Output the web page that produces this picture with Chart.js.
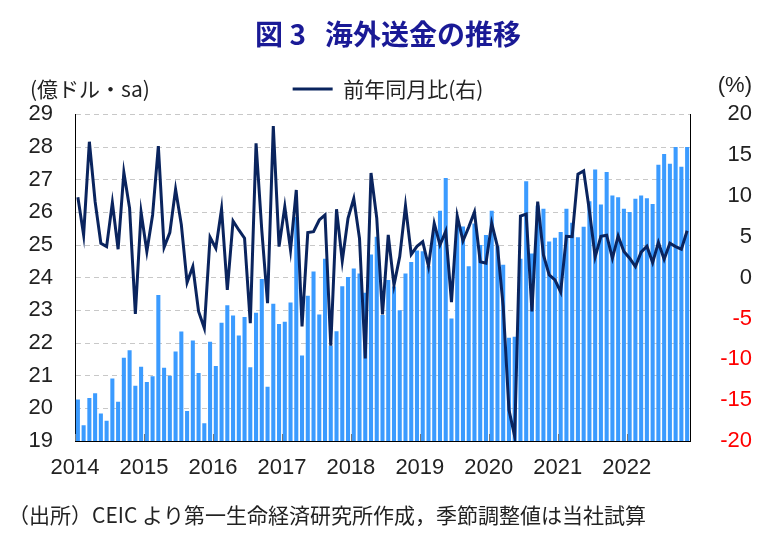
<!DOCTYPE html>
<html lang="ja">
<head>
<meta charset="utf-8">
<title>図3 海外送金の推移</title>
<script src="https://cdn.jsdelivr.net/npm/chart.js@4.4.1/dist/chart.umd.min.js"></script>
<style>
  html, body { margin: 0; padding: 0; background: #fff; }
</style>
</head>
<body>
<canvas id="chart" width="776" height="538"></canvas>
<script>
// 年ラベル（目盛は各年1月の位置）
const years = ['2014', '2015', '2016', '2017', '2018', '2019', '2020', '2021', '2022'];

// 海外送金（億ドル・季節調整値）2014年1月〜2022年11月
const remittance = [
  20.26, 19.47, 20.31, 20.45, 19.83, 19.61, 20.90, 20.19, 21.54, 21.77, 20.68, 21.26,
  20.80, 20.97, 23.46, 21.23, 20.99, 21.73, 22.34, 19.91, 22.07, 21.07, 19.53, 22.03,
  21.29, 22.61, 23.15, 22.83, 22.22, 22.79, 21.25, 22.92, 23.95, 20.65, 23.19, 22.57,
  22.64, 23.23, 25.85, 21.61, 23.44, 24.18, 22.86, 24.57, 21.91, 22.35, 23.73, 24.01,
  24.27, 24.12, 23.53, 24.70, 25.24, 22.85, 23.92, 23.72, 22.99, 24.12, 24.47, 24.82,
  24.80, 24.35, 25.40, 26.04, 27.04, 22.74, 25.60, 25.56, 24.34, 25.65, 24.99, 25.30,
  26.04, 24.95, 24.39, 22.15, 22.18, 24.57, 26.94, 24.73, 26.20, 26.10, 25.10, 25.21,
  25.39, 26.10, 25.67, 25.23, 25.55, 26.33, 27.30, 26.23, 27.23, 26.51, 26.45, 26.10,
  26.00, 26.41, 26.51, 26.42, 26.25, 27.45, 27.78, 27.48, 27.99, 27.39, 27.99
];

// 前年同月比（%、右軸）
const yoy = [
   9.85,  5.24, 16.65,  9.31,  4.22,  3.81,  9.19,  3.49, 12.90,  8.50, -4.43,  8.01,
   3.20,  7.68, 16.12,  3.73,  5.52, 10.83,  6.50, -0.60,  1.36, -4.14, -6.18,  4.95,
   3.60,  8.42, -1.49,  6.95,  5.85,  4.83, -5.57, 16.45,  5.80, -3.12, 18.57,  3.81,
   8.70,  3.40, 10.74, -5.98,  5.52,  5.64,  7.07,  7.68, -8.34,  8.38,  2.06,  7.28,
   9.70,  4.80, -9.90, 12.82,  7.30, -4.50,  5.24, -0.90,  2.58,  8.80,  2.85,  3.85,
   4.42,  1.40,  6.66,  4.01,  5.68, -3.00,  7.56,  4.50,  6.20,  8.05,  1.95,  1.77,
   6.66,  3.81, -3.50,-16.17,-19.44,  7.56,  7.80, -4.14,  9.31,  2.79,  0.34, -0.27,
  -1.75,  5.07,  5.03, 12.68, 13.08,  8.20,  2.55,  5.07,  5.20,  2.38,  5.11,  3.20,
   2.38,  1.36,  3.13,  3.85,  1.85,  4.32,  2.26,  4.22,  3.81,  3.50,  5.75
];

const JP = '"Noto Sans CJK JP", sans-serif';
const NUM = '"Liberation Sans Narrow", "Liberation Sans", sans-serif';

// 各月を x = i + 0.5 に置く（年の区切りが12の倍数になる）
const monthX = remittance.map((_, i) => i + 0.5);

// 単位ラベル・出所・年の区切り目盛
const extras = {
  id: 'extras',
  afterDatasetsDraw(chart) {
    const { ctx, chartArea, scales } = chart;
    ctx.save();
    ctx.strokeStyle = '#777';
    ctx.lineWidth = 1;
    scales.x.ticks.forEach(t => {
      const px = Math.round(scales.x.getPixelForValue(t.value)) + 0.5;
      ctx.beginPath();
      ctx.moveTo(px, chartArea.bottom);
      ctx.lineTo(px, chartArea.bottom - 7);
      ctx.stroke();
    });
    ctx.restore();
  },
  afterDraw(chart) {
    const ctx = chart.ctx;
    ctx.save();
    ctx.fillStyle = '#222';
    ctx.textBaseline = 'middle';
    ctx.textAlign = 'left';
    ctx.font = '21px ' + JP;
    ctx.fillText('(億ドル・sa)', 30, 89);
    ctx.textAlign = 'right';
    ctx.font = '22px ' + NUM;
    ctx.fillText('(%)', 752, 86);
    ctx.textAlign = 'left';
    ctx.font = '21px ' + JP;
    ctx.fillText('（出所）CEIC より第一生命経済研究所作成，季節調整値は当社試算', 8, 515);
    ctx.restore();
  }
};

new Chart(document.getElementById('chart'), {
  type: 'bar',
  data: {
    datasets: [
      {
        type: 'bar',
        label: '海外送金',
        data: monthX.map((x, i) => ({ x, y: remittance[i] })),
        backgroundColor: '#3b9bff',
        barThickness: 3.4,
        yAxisID: 'y',
        order: 2
      },
      {
        type: 'line',
        label: '前年同月比(右)',
        data: monthX.map((x, i) => ({ x, y: yoy[i] })),
        borderColor: '#0a245e',
        backgroundColor: '#0a245e',
        borderWidth: 3,
        pointRadius: 0,
        tension: 0,
        yAxisID: 'y2',
        order: 1
      }
    ]
  },
  options: {
    responsive: false,
    animation: false,
    layout: { padding: { left: 24, right: 24, top: 0, bottom: 0 } },
    plugins: {
      title: {
        display: true,
        text: '図 3   海外送金の推移',
        color: '#1a1a96',
        font: { family: JP, size: 28, weight: 'bold' },
        padding: { top: 18, bottom: 17 }
      },
      // 凡例と描画域の間の余白
      subtitle: {
        display: true,
        text: '',
        font: { size: 4 },
        padding: 0,
        weight: 500
      },
      legend: {
        position: 'top',
        labels: {
          filter: item => item.datasetIndex === 1,
          usePointStyle: true,
          pointStyle: 'line',
          pointStyleWidth: 40,
          color: '#222',
          font: { family: JP, size: 21 },
          padding: 10
        }
      },
      tooltip: { enabled: false }
    },
    scales: {
      x: {
        type: 'linear',
        offset: false,
        min: 0,
        max: remittance.length,
        afterBuildTicks: s => { s.ticks = years.map((_, k) => ({ value: k * 12 })); },
        ticks: {
          autoSkip: false,
          maxRotation: 0,
          padding: 14,
          color: '#222',
          font: { family: NUM, size: 22 },
          callback: v => years[v / 12]
        },
        grid: { display: false, drawTicks: false },
        border: { display: true, color: '#000', width: 1 },
        afterFit: s => { s.height = 97; }
      },
      y: {
        position: 'left',
        min: 19,
        max: 29,
        ticks: { stepSize: 1, padding: 22, color: '#222', font: { family: NUM, size: 22 } },
        grid: {
          color: c => (c.tick && c.tick.value === 19) ? 'rgba(0,0,0,0)' : '#c8c8c8',
          lineWidth: 1,
          drawTicks: false
        },
        border: { color: '#000', width: 1, dash: [5, 4] },
        afterFit: s => { s.width = 51; }
      },
      y2: {
        position: 'right',
        min: -20,
        max: 20,
        ticks: {
          stepSize: 5,
          crossAlign: 'far',
          color: c => (c.tick && c.tick.value < 0) ? '#ff0000' : '#222',
          font: { family: NUM, size: 22 }
        },
        grid: { drawOnChartArea: false, drawTicks: false },
        border: { color: '#000', width: 1 },
        afterFit: s => { s.width = 62; }
      }
    }
  },
  plugins: [extras]
});
</script>
</body>
</html>
